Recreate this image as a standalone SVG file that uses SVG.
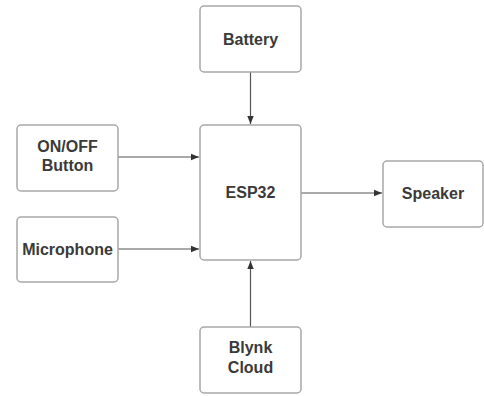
<svg xmlns="http://www.w3.org/2000/svg" width="484" height="396" viewBox="0 0 484 396">
<style>
.box{fill:#fff;stroke:#a8a8a8;stroke-width:1.5}
.lbl{font-family:"Liberation Sans",Arial,sans-serif;font-weight:bold;font-size:16px;fill:#3a3a3a;text-anchor:middle}
.edge{stroke:#555;stroke-width:1.2;fill:none;marker-end:url(#ah)}
</style>
<defs>
<marker id="ah" viewBox="0 0 10 10" refX="10" refY="5" markerWidth="8" markerHeight="8" markerUnits="userSpaceOnUse" orient="auto">
<path d="M0,1 L10,5 L0,9 z" fill="#333"/>
</marker>
</defs>
<rect width="484" height="396" fill="#fff"/>
<g id="edges">
<path class="edge" d="M250.5,72 V124"/>
<path class="edge" d="M118,157 H199"/>
<path class="edge" d="M118,249 H199"/>
<path class="edge" d="M301,193 H382"/>
<path class="edge" d="M250.5,327 V261"/>
</g>
<g id="battery"><rect class="box" x="200" y="6" width="101" height="66" rx="4"/><text class="lbl" x="250.5" y="45">Battery</text></g>
<g id="esp32"><rect class="box" x="200" y="125" width="101" height="135" rx="4"/><text class="lbl" x="250.5" y="198">ESP32</text></g>
<g id="onoff"><rect class="box" x="17" y="125" width="101" height="66" rx="4"/><text class="lbl" x="67.5" y="152">ON/OFF</text><text class="lbl" x="67.5" y="171">Button</text></g>
<g id="microphone"><rect class="box" x="17" y="217" width="101" height="65" rx="4"/><text class="lbl" x="67.5" y="255">Microphone</text></g>
<g id="speaker"><rect class="box" x="383" y="161" width="100" height="66" rx="4"/><text class="lbl" x="433" y="199">Speaker</text></g>
<g id="blynk"><rect class="box" x="200" y="327" width="101" height="66" rx="4"/><text class="lbl" x="250.5" y="353">Blynk</text><text class="lbl" x="250.5" y="373">Cloud</text></g>
</svg>
